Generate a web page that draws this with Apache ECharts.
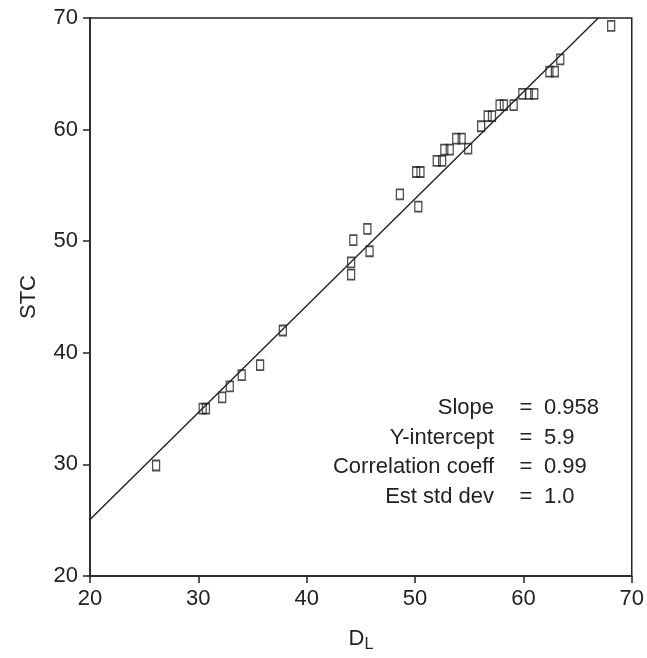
<!DOCTYPE html>
<html>
<head>
<meta charset="utf-8">
<script src="https://cdn.jsdelivr.net/npm/echarts@6/dist/echarts.min.js"></script>
<style>
html,body{margin:0;padding:0;background:#fff;}
#chart{width:647px;height:658px;}
</style>
</head>
<body>
<div id="chart"></div>
<script>
// ---- data ----
const dlValues = [26.1, 30.4, 30.7, 32.2, 32.9, 34.0, 35.7, 37.8, 44.1, 44.1, 44.3, 45.8, 45.6, 48.6, 50.3, 50.1, 50.5,
  52.0, 52.5, 52.7, 53.2, 53.8, 54.3, 54.9, 56.1, 56.7, 57.1, 57.8, 58.2, 59.1, 59.9, 60.5, 61.0, 62.4, 62.9, 63.4, 68.1];
const stcValues = [29.9, 35.0, 35.0, 36.0, 37.0, 38.0, 38.9, 42.0, 47.0, 48.1, 50.1, 49.1, 51.1, 54.2, 53.1, 56.2, 56.2,
  57.2, 57.2, 58.2, 58.2, 59.2, 59.2, 58.3, 60.3, 61.2, 61.2, 62.2, 62.2, 62.2, 63.2, 63.2, 63.2, 65.2, 65.2, 66.3, 69.3];
const fitSlope = 0.958;
const fitIntercept = 5.9;
const axisTicks = [20, 30, 40, 50, 60, 70];
const statLabels = ['Slope', 'Y-intercept', 'Correlation coeff', 'Est std dev'];
const statValues = ['0.958', '5.9', '0.99', '1.0'];

// ---- build ----
const points = dlValues.map((x, i) => [x, stcValues[i]]);
const axMin = axisTicks[0], axMax = axisTicks[axisTicks.length - 1];
const fitLine = [
  [axMin, fitSlope * axMin + fitIntercept],
  [(axMax - fitIntercept) / fitSlope, axMax]
];

const FONT = '"Liberation Sans", Arial, Helvetica, sans-serif';
const INK = '#222';
const FS = 22;
const chart = echarts.init(document.getElementById('chart'), null, {renderer: 'canvas'});

const graphics = [];
statLabels.forEach((lab, i) => {
  const y = 408 + i * 29.5;
  graphics.push({type: 'text', x: 494, y: y, style: {text: lab, font: FS + 'px ' + FONT, fill: INK, textAlign: 'right', textVerticalAlign: 'middle'}});
  graphics.push({type: 'text', x: 526, y: y, style: {text: '=', font: FS + 'px ' + FONT, fill: INK, textAlign: 'center', textVerticalAlign: 'middle'}});
  graphics.push({type: 'text', x: 544, y: y, style: {text: statValues[i], font: FS + 'px ' + FONT, fill: INK, textAlign: 'left', textVerticalAlign: 'middle'}});
});

const axisCommon = {
  type: 'value', min: axMin, max: axMax, interval: 10,
  axisLine: {show: true, onZero: false, lineStyle: {color: INK, width: 1.5}},
  axisTick: {show: true, inside: false, length: 7, lineStyle: {color: INK, width: 1.5}},
  splitLine: {show: false},
  nameLocation: 'middle',
  nameTextStyle: {color: INK, fontSize: FS, fontFamily: FONT}
};

chart.setOption({
  animation: false,
  backgroundColor: '#fff',
  grid: {left: 90, right: 9, top: 18, bottom: 78, show: true, borderColor: INK, borderWidth: 1.5, backgroundColor: 'transparent'},
  xAxis: Object.assign({}, axisCommon, {
    axisLabel: {color: INK, fontSize: FS, fontFamily: FONT, margin: 12},
    name: '{d|D}{s|L}', nameGap: 49,
    nameTextStyle: {color: INK, fontFamily: FONT, rich: {
      d: {fontSize: FS, fontFamily: FONT, color: INK},
      s: {fontSize: 16, fontFamily: FONT, color: INK, verticalAlign: 'bottom', padding: [12, 0, 0, 0]}
    }}
  }),
  yAxis: Object.assign({}, axisCommon, {
    axisLabel: {color: INK, fontSize: FS, fontFamily: FONT, margin: 12},
    name: 'STC', nameGap: 50
  }),
  series: [
    {
      type: 'line', data: fitLine, symbol: 'none', silent: true,
      lineStyle: {color: INK, width: 1.4}, z: 1
    },
    {
      type: 'scatter', data: points, symbol: 'rect', symbolSize: [7, 10],
      itemStyle: {color: 'transparent', borderColor: INK, borderWidth: 1.5}, z: 2
    }
  ],
  graphic: graphics
});
</script>
</body>
</html>
